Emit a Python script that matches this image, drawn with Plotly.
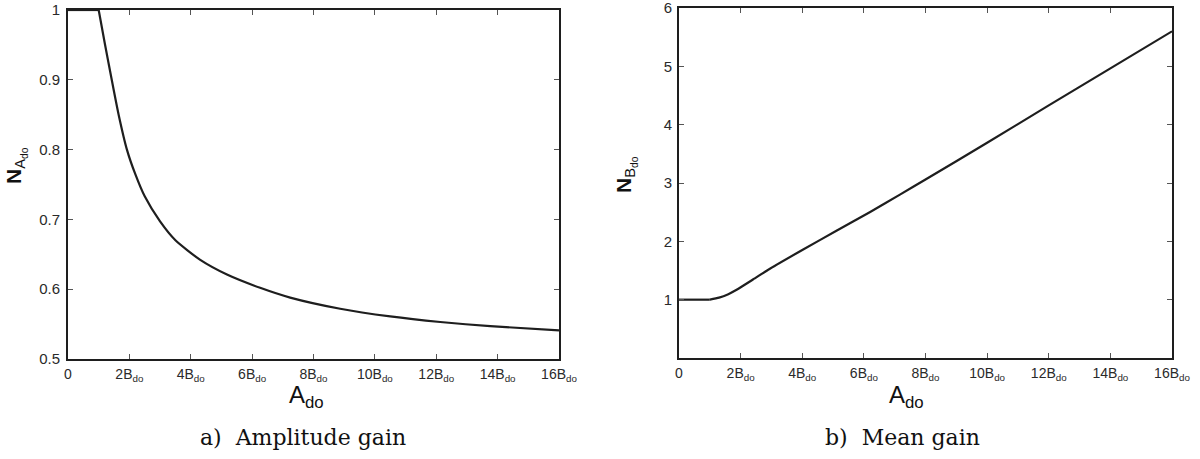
import plotly.graph_objects as go

# Amplitude gain N_Ado versus A_do (in units of B_do)
amp_x = [0, 1.0, 1.2, 1.43, 1.65, 1.92, 2.2, 2.5, 3.0, 3.5, 4.31, 5.18, 6.26, 7.24,
         8.87, 10.5, 12.13, 13.76, 16.0]
amp_y = [1.0, 1.0, 0.952, 0.899, 0.850, 0.800, 0.764, 0.733, 0.697, 0.670, 0.642,
         0.621, 0.602, 0.588, 0.572, 0.561, 0.553, 0.547, 0.541]

# Mean gain N_Bdo versus A_do
mean_x = [0, 1.0, 1.3, 1.6, 1.87, 2.4, 2.95, 4.03, 5.11, 6.19, 7.17, 8.0, 10.0, 12.0,
          14.0, 16.0]
mean_y = [1.0, 1.0, 1.035, 1.095, 1.17, 1.345, 1.53, 1.86, 2.18, 2.50, 2.80, 3.06, 3.69,
          4.33, 4.965, 5.60]

x_tickvals = [0, 2, 4, 6, 8, 10, 12, 14, 16]
x_ticktext = ["0"] + [f"{v}B<sub>do</sub>" for v in x_tickvals[1:]]
amp_yticks = [0.5, 0.6, 0.7, 0.8, 0.9, 1]
amp_yticktext = ["0.5", "0.6", "0.7", "0.8", "0.9", "1"]
mean_yticks = [1, 2, 3, 4, 5, 6]

captions = ["a)  Amplitude gain", "b)  Mean gain"]

W, H = 1200, 459
SANS = "Liberation Sans, Arial, sans-serif"
SERIF = "DejaVu Serif, Liberation Serif, serif"
INK = "#1e1e1e"

fig = go.Figure()


def add_gain(xs, ys, xa, ya):
    """Flat part up to A_do = B_do drawn straight, the rest as a smooth curve."""
    knee = xs.index(1.0)
    fig.add_trace(go.Scatter(x=xs[:knee + 1], y=ys[:knee + 1], mode="lines",
                             xaxis=xa, yaxis=ya, showlegend=False,
                             line=dict(color=INK, width=2.2)))
    fig.add_trace(go.Scatter(x=xs[knee:], y=ys[knee:], mode="lines",
                             xaxis=xa, yaxis=ya, showlegend=False,
                             line=dict(color=INK, width=2.2, shape="spline",
                                       smoothing=0.6)))


add_gain(amp_x, amp_y, "x", "y")
add_gain(mean_x, mean_y, "x2", "y2")


def px_x(p):
    return p / W


def px_y(p):
    return (H - p) / H


axis_common = dict(showline=True, linecolor=INK, linewidth=1.8, mirror="ticks",
                   ticks="inside", ticklen=5, tickwidth=1, tickcolor="#555",
                   showgrid=False, zeroline=False, automargin=False,
                   ticklabeloverflow="allow")

x_font = dict(family=SANS, size=14, color="#2a2a2a")
y_font = dict(family=SANS, size=15, color="#2a2a2a")

fig.update_layout(
    width=W, height=H,
    margin=dict(l=0, r=0, t=0, b=0, autoexpand=False),
    paper_bgcolor="white", plot_bgcolor="white",
    xaxis=dict(domain=[px_x(68), px_x(559)], range=[0, 16], anchor="y",
               tickvals=x_tickvals, ticktext=x_ticktext, ticklabelstandoff=1,
               tickfont=x_font, **axis_common),
    yaxis=dict(domain=[px_y(359), px_y(10)], range=[0.5, 1], anchor="x",
               tickvals=amp_yticks, ticktext=amp_yticktext, ticklabelstandoff=3,
               tickfont=y_font, **axis_common),
    xaxis2=dict(domain=[px_x(679), px_x(1172)], range=[0, 16], anchor="y2",
                tickvals=x_tickvals, ticktext=x_ticktext, ticklabelstandoff=1,
                tickfont=x_font, **axis_common),
    yaxis2=dict(domain=[px_y(358), px_y(8)], range=[0, 6], anchor="x2",
                tickvals=mean_yticks, ticktext=[str(v) for v in mean_yticks],
                ticklabelstandoff=2, tickfont=y_font, **axis_common),
)


def label(text, x, y, font, angle=0):
    return dict(text=text, x=px_x(x), y=px_y(y), xref="paper", yref="paper",
                xanchor="center", yanchor="middle", showarrow=False,
                textangle=angle, font=font)


title_font = dict(family=SANS, size=24, color="#111")
ytitle_font = dict(family=SANS, size=21, color="#111")
caption_font = dict(family=SERIF, size=22, color="#111")

fig.update_layout(annotations=[
    # x-axis titles
    label("A<sub>do</sub>", 306, 396, title_font),
    label("A<sub>do</sub>", 906, 396, title_font),
    # y-axis titles
    label("<b>N</b><sub>A<sub>do</sub></sub>", 16, 166, ytitle_font, -90),
    label("<b>N</b><sub>B<sub>do</sub></sub>", 626, 174, ytitle_font, -90),
    # captions
    label(captions[0], 303, 437, caption_font),
    label(captions[1], 902, 437, caption_font),
])

fig.write_html("out.html")
